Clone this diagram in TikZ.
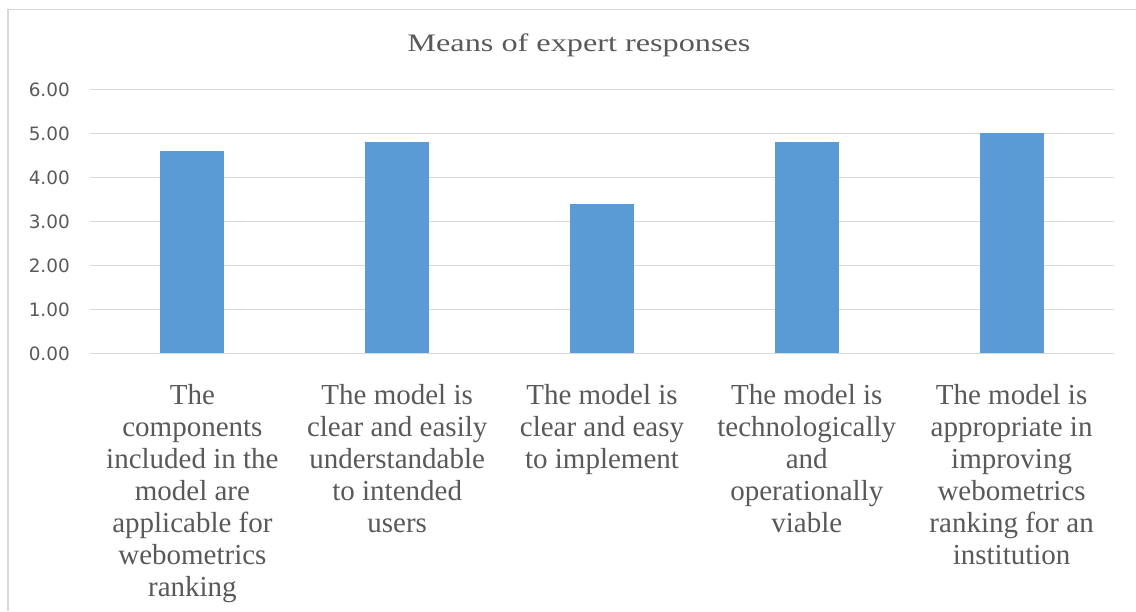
\documentclass[tikz,border=0pt]{standalone}
\usepackage{fontspec}
\setmainfont{Liberation Serif}
\newfontfamily\catfont{Liberation Serif}
\newfontfamily\axisfont{DejaVu Sans}
\definecolor{barblue}{HTML}{5B9BD5}
\definecolor{gridgray}{HTML}{D9D9D9}
\definecolor{txtgray}{HTML}{595959}

\begin{document}
\begin{tikzpicture}[x=0.75pt,y=0.75pt,
  catlabel/.style={anchor=north,inner sep=0,align=center,text=txtgray,font=\catfont\fontsize{21.75}{24}\selectfont},
  ticklabel/.style={anchor=east,inner sep=0,text=txtgray,font=\axisfont\fontsize{13.8}{16}\selectfont},
  bar/.style={fill=barblue}]
\useasboundingbox (0,0) rectangle (1136,611);
% category labels
\node[catlabel] (cat1) at (192.4,227) {The\\components\\included in the\\model are\\applicable for\\webometrics\\ranking};
\node[catlabel] (cat2) at (397.2,227) {The model is\\clear and easily\\understandable\\to intended\\users};
\node[catlabel] (cat3) at (602,227) {The model is\\clear and easy\\to implement};
\node[catlabel] (cat4) at (806.8,227) {The model is\\technologically\\and\\operationally\\viable};
\node[catlabel] (cat5) at (1011.6,227) {The model is\\appropriate in\\improving\\webometrics\\ranking for an\\institution};
% chart frame
\draw[gridgray,line width=1.1pt] (8,0) -- (8,601.3) -- (1136,601.3);
\node[anchor=base,inner sep=0,text=txtgray,xscale=1.28,font=\catfont\fontsize{18.9}{22}\selectfont] (title) at (579,559.3) {Means of expert responses};
% gridlines and tick labels
\foreach \v in {0,...,6}{
  \draw[gridgray,line width=0.9pt] (90,257.5+44*\v) -- (1114,257.5+44*\v);
  \node[ticklabel] (tick\v) at (70,257.5+44*\v) {\v.00};
}
% bars
\fill[bar] (160.4,257.5) rectangle (224.4,257.5+44*4.6);
\fill[bar] (365.2,257.5) rectangle (429.2,257.5+44*4.8);
\fill[bar] (570,257.5) rectangle (634,257.5+44*3.4);
\fill[bar] (774.8,257.5) rectangle (838.8,257.5+44*4.8);
\fill[bar] (979.6,257.5) rectangle (1043.6,257.5+44*5.0);
\end{tikzpicture}
\end{document}
